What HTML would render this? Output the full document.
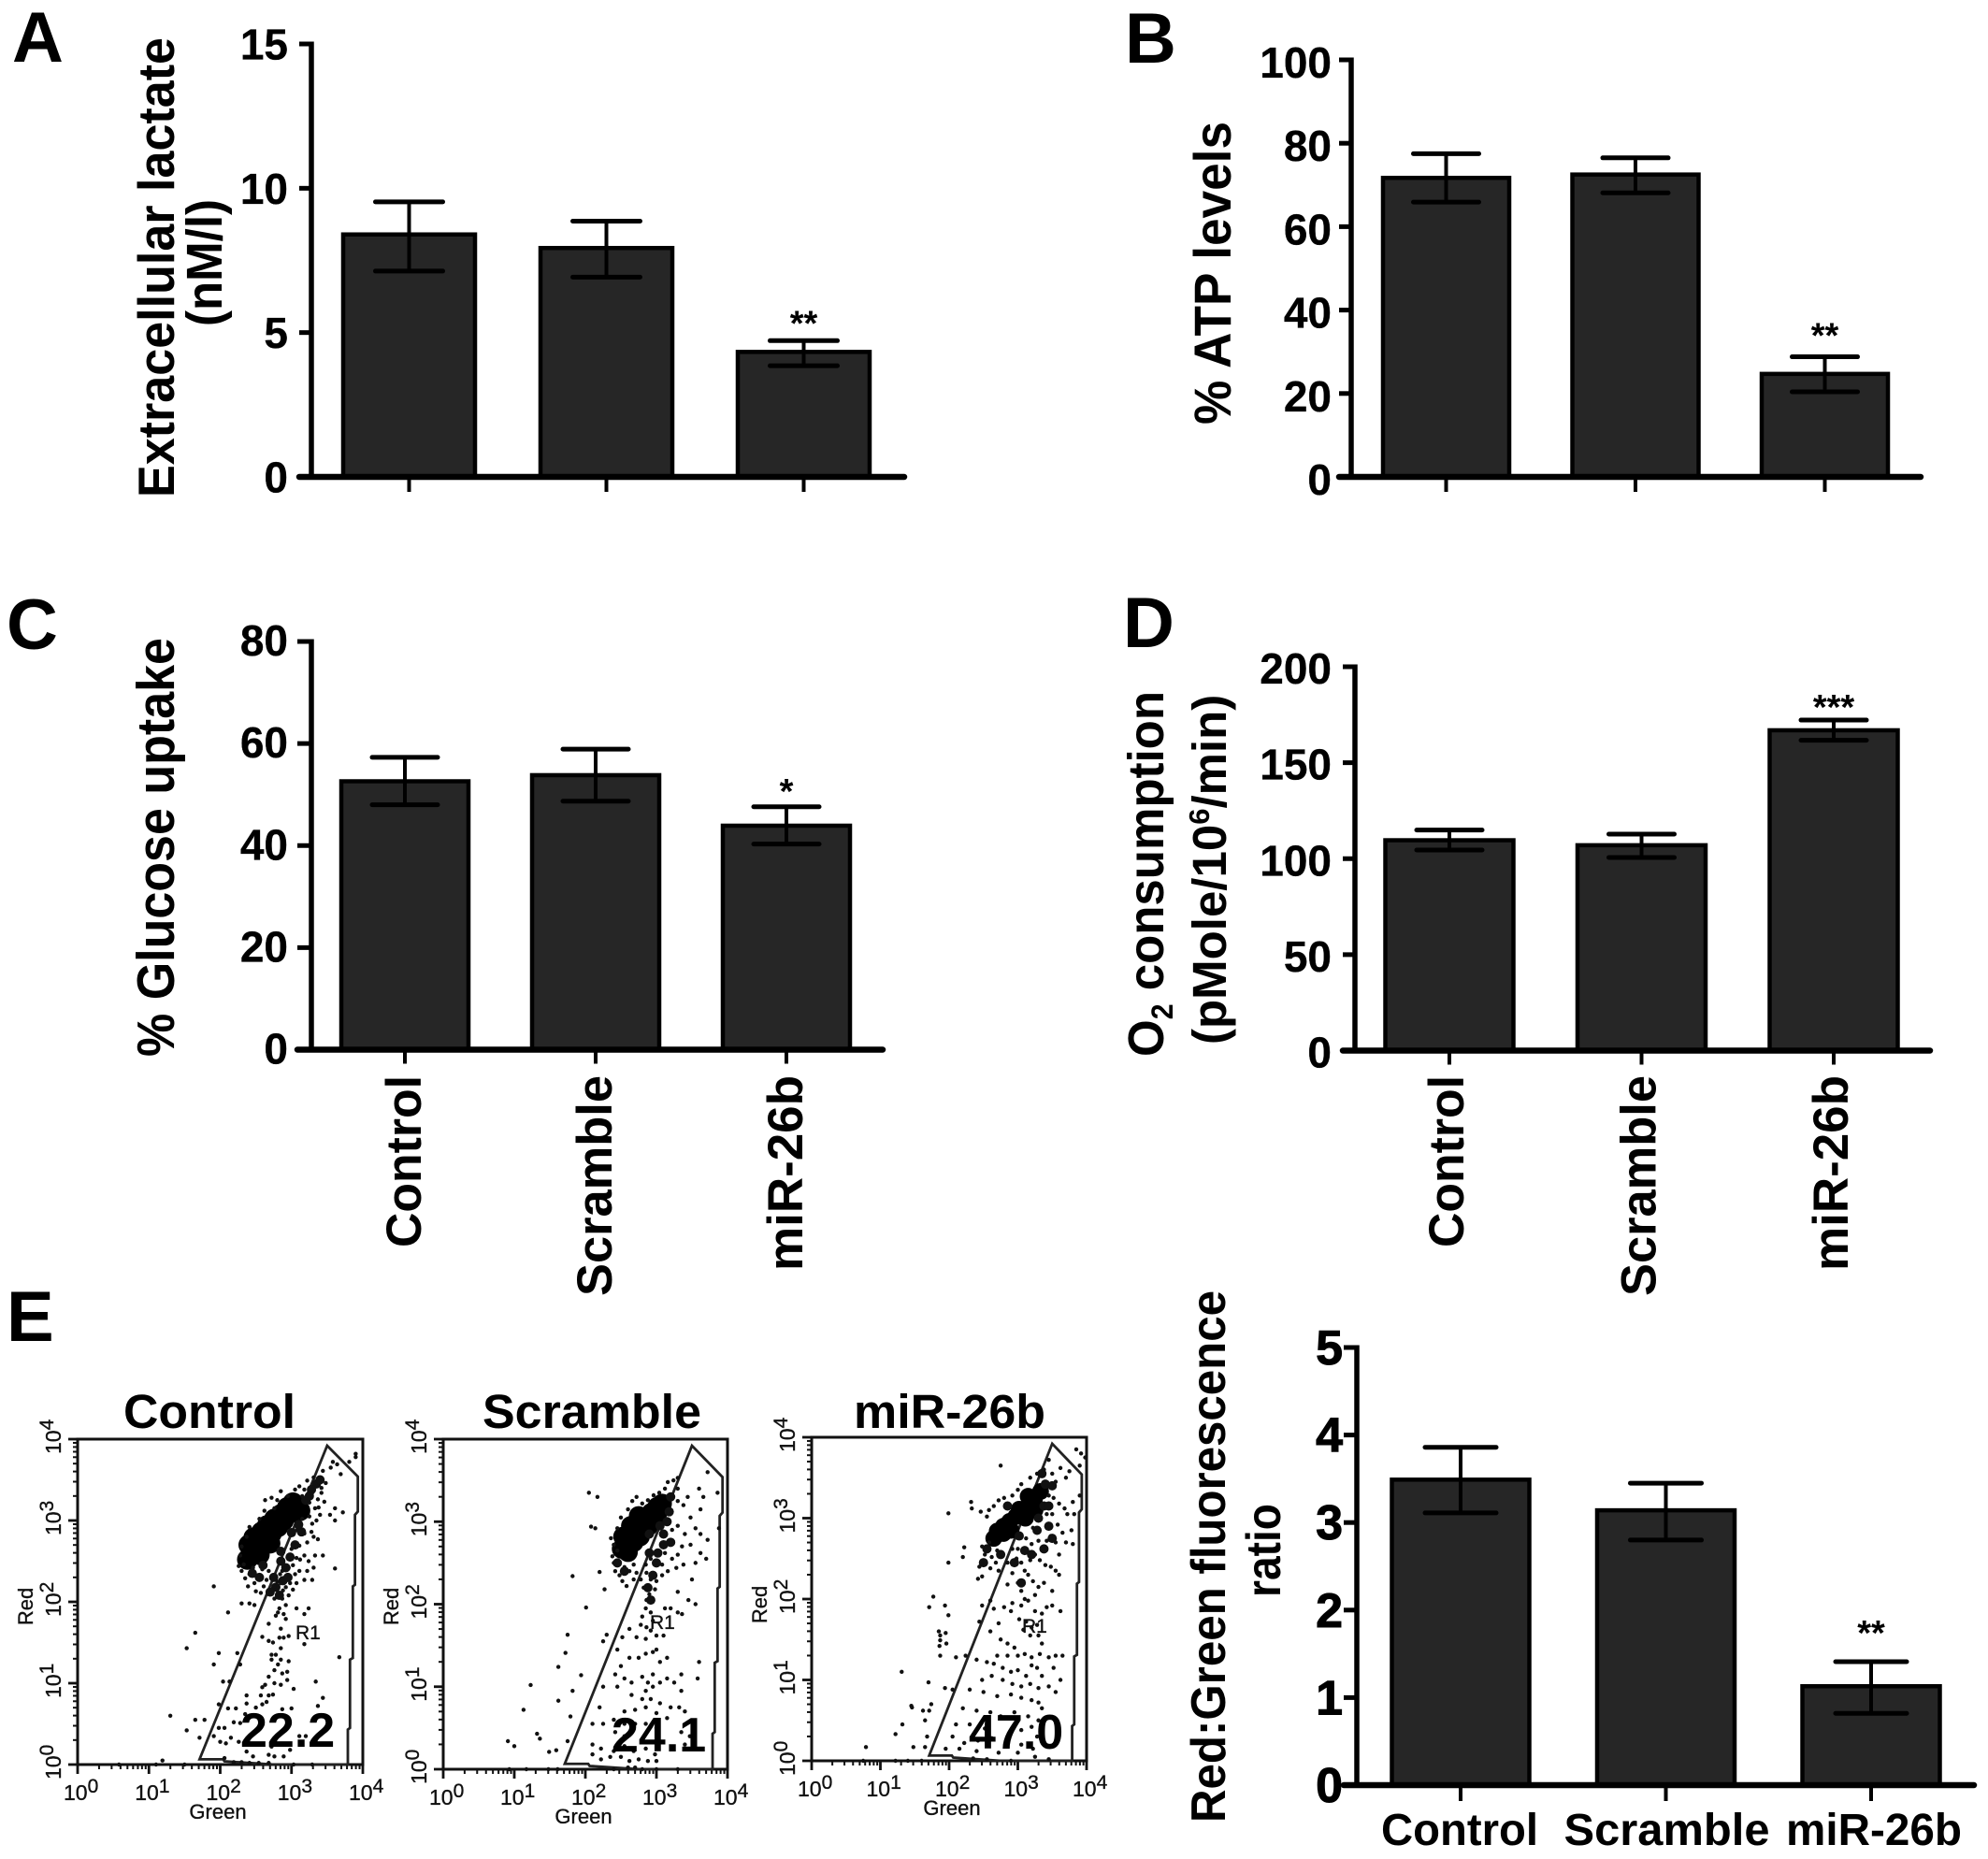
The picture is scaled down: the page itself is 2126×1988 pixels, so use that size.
<!DOCTYPE html>
<html lang="en">
<head>
<meta charset="utf-8">
<title>Metabolic assays, panels A to E</title>
<style>
html,body{margin:0;padding:0;background:#fff;}
svg{display:block;font-family:"Liberation Sans",sans-serif;}
.t{font-weight:bold;fill:#000;}
.f{fill:#111;font-weight:normal;stroke:#111;stroke-width:0.35;}
</style>
</head>
<body>
<svg id="figure" xmlns="http://www.w3.org/2000/svg" width="2126" height="1988" viewBox="0 0 2126 1988">
<rect x="0" y="0" width="2126" height="1988" fill="#fff"/>
<text class="t" x="13" y="66" font-size="76">A</text>
<text class="t" x="1203" y="67" font-size="76">B</text>
<text class="t" x="7" y="694" font-size="76">C</text>
<text class="t" x="1201" y="692" font-size="76">D</text>
<text class="t" x="7" y="1434" font-size="76">E</text>

<text class="t" transform="translate(186,532) rotate(-90)" font-size="55" textLength="492" lengthAdjust="spacingAndGlyphs">Extracellular lactate</text>
<text class="t" transform="translate(237,349) rotate(-90)" font-size="54" textLength="136" lengthAdjust="spacingAndGlyphs">(nM/l)</text>
<text class="t" transform="translate(1316,454) rotate(-90)" font-size="56" textLength="324" lengthAdjust="spacingAndGlyphs">% ATP levels</text>
<text class="t" transform="translate(186,1130) rotate(-90)" font-size="57" textLength="448" lengthAdjust="spacingAndGlyphs">% Glucose uptake</text>
<text class="t" transform="translate(1244,1130) rotate(-90)" font-size="54" textLength="391" lengthAdjust="spacingAndGlyphs">O<tspan font-size="32" dy="10">2</tspan><tspan dy="-10"> consumption</tspan></text>
<text class="t" transform="translate(1311,1117) rotate(-90)" font-size="51">(pMole/10<tspan font-size="31" dy="-18">6</tspan><tspan dy="18">/min)</tspan></text>
<text class="t" transform="translate(1310,1949) rotate(-90)" font-size="52" textLength="569" lengthAdjust="spacingAndGlyphs">Red:Green fluorescence</text>
<text class="t" transform="translate(1369,1708) rotate(-90)" font-size="52" textLength="100" lengthAdjust="spacingAndGlyphs">ratio</text>

<text class="t" x="132" y="1527" font-size="51" textLength="184" lengthAdjust="spacingAndGlyphs">Control</text>
<text class="t" x="516" y="1527" font-size="51" textLength="234" lengthAdjust="spacingAndGlyphs">Scramble</text>
<text class="t" x="913" y="1527" font-size="51" textLength="205" lengthAdjust="spacingAndGlyphs">miR-26b</text>
<g id="charts"></g>
</svg>
<script>
/* ---------- Bar chart data ---------- */
const categories = ['Control', 'Scramble', 'miR-26b'];

const lactateValues = [8.4, 7.93, 4.33];
const lactateUpper = [9.53, 8.86, 4.72];
const lactateLower = [7.13, 6.92, 3.85];
const lactateTicks = [0, 5, 10, 15];
const lactateStars = ['', '', '**'];

const atpValues = [71.7, 72.5, 24.7];
const atpUpper = [77.5, 76.5, 28.8];
const atpLower = [65.9, 68.1, 20.4];
const atpTicks = [0, 20, 40, 60, 80, 100];
const atpStars = ['', '', '**'];

const glucoseValues = [52.6, 53.8, 43.9];
const glucoseUpper = [57.3, 58.9, 47.6];
const glucoseLower = [48, 48.7, 40.3];
const glucoseTicks = [0, 20, 40, 60, 80];
const glucoseStars = ['', '', '*'];

const oxygenValues = [109.6, 107, 166.9];
const oxygenUpper = [114.9, 112.8, 172.2];
const oxygenLower = [104.5, 100.6, 161.7];
const oxygenTicks = [0, 50, 100, 150, 200];
const oxygenStars = ['', '', '***'];

const ratioValues = [3.49, 3.14, 1.13];
const ratioUpper = [3.86, 3.45, 1.41];
const ratioLower = [3.11, 2.80, 0.82];
const ratioTicks = [0, 1, 2, 3, 4, 5];
const ratioStars = ['', '', '**'];

/* ---------- Flow cytometry data: [log10 green, log10 red] ---------- */
const flowDecades = [0, 1, 2, 3, 4];
const flowMinor = [2, 3, 4, 5, 6, 7, 8, 9];
const gateVertices = [[1.71,0.065],[3.5,3.92],[3.93,3.54],[3.93,3.11],[3.89,3.07],[3.89,2.21],[3.86,2.19],[3.86,1.31],[3.82,1.29],[3.82,0.45],[3.79,0.43],[3.79,0],[2.76,0],[2.06,0.04],[2.04,0.065]];
const gateValues = ['22.2', '24.1', '47.0'];

const controlDense = [[2.38,2.52],[2.46,2.61],[2.40,2.70],[2.54,2.69],[2.47,2.79],[2.63,2.77],[2.58,2.86],[2.72,2.84],[2.66,2.94],[2.81,2.92],[2.76,3.02],[2.89,3.00],[2.86,3.08],[2.98,3.09],[2.94,3.16],[3.07,3.17],[3.02,3.22],[3.12,3.12],[2.55,2.58],[2.70,2.72]];
const controlMedium = [[2.92,2.42],[2.88,2.26],[2.83,2.08],[2.98,2.55],[3.05,2.70],[3.14,2.86],[2.95,2.30],[3.35,3.45],[3.28,3.38],[2.85,2.62],[3.0,2.85],[3.1,2.95],[2.75,2.30],[2.7,2.12],[2.78,2.18],[2.85,2.5],[3.2,3.25],[3.25,3.3],[3.4,3.5],[2.45,2.35],[2.55,2.3],[2.6,2.45]];
const controlPoints = [[1.91,2.19],[2.11,1.87],[1.65,1.62],[1.53,1.43],[1.98,1.37],[1.91,1.23],[1.30,0.60],[1.65,0.55],[1.78,0.55],[1.53,0.42],[1.71,0.33],[1.19,0.05],[0.58,0],[1.10,0],[1.5,0],
[2.24,1.37],[2.28,1.23],[2.04,1.02],[2.13,1.02],[2.37,0.85],[2.57,0.85],[2.68,0.85],[2.74,0.86],[2.37,0.75],[2.59,0.74],[2.65,0.77],[1.98,0.74],[2.11,0.69],[2.22,0.69],[2.35,0.62],[2.50,0.70],[2.87,0.68],[3.0,0.69],[3.37,0.72],[3.44,0.82],[3.34,1.02],[3.67,1.32],[3.03,0.93],[2.94,1.04],[2.85,0.98],[2.76,1.0],[2.63,0.98],[2.59,0.95],[2.68,1.08],[2.87,1.12],[2.94,1.14],[2.76,1.16],[2.81,1.23],[2.72,1.29],[2.96,1.27],[2.85,1.29],[2.72,1.35],[2.78,1.35],[2.85,1.43],[2.68,1.52],[2.74,1.50],[2.59,1.57],[2.83,1.56],[2.89,1.56],[2.96,1.58],[3.18,1.48],[2.85,1.67],[2.92,1.79],[2.68,1.73],[2.78,1.83],[2.89,1.85],[2.81,1.87],[3.18,1.85],[3.24,1.92],[3.07,1.92],
[1.98,0.45],[2.06,0.45],[2.19,0.52],[2.28,0.51],[1.91,0.35],[2.0,0.28],[2.08,0.26],[2.15,0.33],[2.26,0.28],[2.37,0.16],[2.46,0.10],[2.68,0.12],[2.76,0.10],[2.89,0.10],[2.98,0.18],[3.11,0.35],[3.2,0.35],[2.72,0.22],[2.06,0.08],[2.19,0.03],[2.3,0.03],[2.41,0.02],[2.54,0.02],[2.68,0.02],[3.03,0],[3.29,0],
[2.30,2.38],[2.35,2.29],[2.41,2.34],[2.48,2.23],[2.54,2.31],[2.61,2.19],[2.65,2.27],[2.39,2.19],[2.50,2.13],[2.57,2.11],[2.33,2.46],[2.28,2.57],[2.26,2.44],[2.46,2.42],[2.59,2.40],[2.68,2.38],[2.41,1.98],[2.30,1.98],[2.48,1.96],
[2.76,2.19],[2.81,2.11],[2.85,2.23],[2.92,2.31],[2.87,2.38],[2.96,2.42],[2.98,2.23],[3.05,2.34],[3.11,2.38],[3.02,2.15],[2.96,2.08],[2.87,2.04],[2.76,2.04],[2.72,2.15],[2.92,1.96],[2.83,1.92],[3.07,2.23],[3.18,2.27],[3.22,2.38],[3.31,2.42],[3.29,2.27],[3.24,2.50],[3.33,2.57],[3.44,2.57],[3.18,2.57],[3.07,2.54],[2.96,2.54],[3.0,2.65],[3.11,2.69],[3.22,2.73],[3.31,2.80],[3.37,2.77],[3.18,2.84],[3.07,2.88],[3.29,2.96],[3.35,3.0],[3.46,3.23],[3.42,3.34],[3.35,3.42],[3.48,3.46],[3.44,3.61],[3.55,3.65],[3.64,3.69],[3.58,3.72],[3.69,3.57],[3.81,3.72],[3.90,3.82],[3.90,3.78],[3.61,3.15],[3.72,3.10],[3.54,3.07],[3.61,3.0],[3.61,2.41],[3.11,3.42],[3.22,3.49],[3.31,3.53],[3.18,3.38],[3.29,3.34],[3.37,3.26],[3.33,3.15],[3.40,3.07],[2.85,3.36],[2.72,3.28],[2.63,3.25],[2.76,3.15],[2.41,2.92],[2.37,2.80],[2.30,2.68],[2.55,3.02],[2.62,3.12],[2.80,3.25],[2.95,3.30],[3.05,3.38],[3.15,3.30],[3.25,3.22],[3.38,3.16],[3.42,3.40],[3.25,3.05],[3.15,3.02],[3.28,2.86],[3.12,2.52],[3.02,2.45],[2.92,2.18],[2.88,2.14],[2.80,2.25],[2.84,2.34]];

const scrambleDense = [[2.51,2.67],[2.57,2.77],[2.66,2.86],[2.75,2.95],[2.84,3.03],[2.93,3.11],[3.01,3.18],[3.08,3.22],[2.60,2.63],[2.68,2.75],[2.77,2.82],[2.88,2.94],[2.53,2.82],[2.64,2.95],[2.75,3.07],[3.01,3.09]];
const scrambleMedium = [[3.10,2.85],[3.20,2.75],[3.02,2.62],[2.95,2.35],[3.18,3.12],[2.90,2.85],[3.05,2.95],[3.15,3.0],[3.2,3.3],[2.9,2.62],[3.0,2.5],[2.88,2.2],[2.92,2.05],[2.45,2.5],[2.55,2.4],[3.1,2.72]];
const scramblePoints = [[2.05,3.35],[2.17,3.30],[2.08,2.94],[2.14,2.92],[1.82,2.34],[2.20,2.39],[2.27,2.18],[2.01,1.96],[1.75,1.63],[1.72,1.41],[1.62,1.24],[1.94,1.14],[1.23,1.02],[1.82,0.95],[1.62,0.83],[1.13,0.72],[1.79,0.64],[1.32,0.43],[1.36,0.37],[0.91,0.34],[1.0,0.28],[1.49,0.21],[1.59,0.23],[1.75,0.34],[0.93,0],[1.17,0],[1.48,0],[1.61,0],
[2.45,2.65],[2.38,2.58],[2.40,2.50],[2.42,2.40],[2.48,2.35],[2.52,2.28],[2.58,2.22],[2.62,2.40],[2.55,2.45],[2.68,2.48],[2.72,2.38],[2.68,2.30],[2.78,2.30],[2.40,2.72],[2.36,2.80],[2.45,2.92],[2.50,3.05],[2.60,3.15],[2.66,3.25],[2.72,3.30],[2.80,3.22],[2.88,3.26],[2.96,3.32],[3.04,3.35],[3.12,3.40],[3.16,3.48],[3.24,3.50],[3.30,3.53],[3.30,3.40],[3.22,3.32],[3.30,3.25],[3.38,3.20],[3.44,3.30],[3.60,3.40],[3.72,3.60],[3.66,3.30],[3.86,3.35],[3.62,3.15],[3.48,3.05],[3.55,2.92],[3.62,2.85],[3.72,2.78],[3.88,2.92],[3.62,2.62],[3.70,2.55],[3.55,2.50],[3.48,2.72],[3.40,2.85],[3.30,2.95],[3.22,2.90],[3.36,2.70],[3.30,2.60],[3.22,2.55],[3.12,2.62],[3.08,2.48],[3.00,2.50],[2.92,2.55],[2.85,2.48],[2.86,2.38],[2.92,2.30],[3.00,2.28],[3.08,2.35],[3.16,2.40],[3.28,2.44],[3.38,2.48],[2.98,2.18],[2.90,2.12],[2.82,2.20],[2.86,2.05],[3.30,2.15],[3.45,2.05],[3.55,2.00],[3.50,2.30],
[2.85,1.95],[2.92,1.90],[2.80,1.85],[2.95,1.80],[2.86,1.72],[2.78,1.75],[2.92,1.68],[2.72,1.60],[2.85,1.58],[3.0,1.62],[3.10,1.62],[3.30,1.90],[3.20,1.95],[3.36,1.88],[3.12,1.95],[2.62,1.70],[2.52,1.60],[2.30,1.63],[2.25,1.55],[2.45,1.45],[2.62,1.35],[2.75,1.35],[2.85,1.40],[2.95,1.42],[3.00,1.45],[3.15,1.35],[3.05,1.30],[3.60,1.30],[3.58,1.10],[3.35,1.15],[2.50,1.25],[2.42,1.15],[2.55,1.10],[2.65,1.05],[2.80,1.12],[2.88,1.05],[2.95,1.00],[2.85,0.95],[2.95,1.15],[3.15,1.10],[3.25,1.05],[3.35,0.95],[3.05,1.05],[2.25,1.00],[2.45,1.00],[2.65,0.90],[2.80,0.85],[2.92,0.85],[3.05,0.80],[3.20,0.75],[3.32,0.75],[3.40,0.70],[2.55,0.70],[2.70,0.72],[2.85,0.75],[3.0,0.68],[3.15,0.62],[2.20,0.75],[2.10,0.55],[2.25,0.55],[2.40,0.60],[2.55,0.55],[2.70,0.55],[2.85,0.55],[3.0,0.50],[3.35,0.45],[2.42,0.45],[2.55,0.40],[3.47,0.40],[3.40,0.30],[2.10,0.30],[2.22,0.25],[2.40,0.22],[2.55,0.28],[2.68,0.22],[2.85,0.25],[2.98,0.18],[2.10,0.18],[2.22,0.12],[2.35,0.15],[2.50,0.15],[2.62,0.10],[2.75,0.12],[2.88,0.10],[3.0,0.10],[2.60,0.02],[2.70,0.02],[2.80,0],[2.40,0],[3.0,0],[3.3,0]];

const mirDense = [[2.70,2.84],[2.79,2.90],[2.88,2.96],[2.97,3.02],[3.06,3.08],[3.15,3.15],[3.24,3.23],[3.33,3.33],[2.65,2.75],[2.79,2.81],[3.02,3.11],[3.15,3.27],[3.11,3.0],[2.90,2.85],[3.25,3.10]];
const mirMedium = [[3.40,3.42],[2.55,2.62],[3.38,3.15],[3.28,2.85],[3.10,2.60],[3.45,2.90],[3.02,2.78],[3.38,2.62],[2.5,2.45],[2.75,2.55],[2.95,2.45],[3.3,3.0],[3.45,3.15],[3.5,3.4],[3.35,3.55],[3.2,2.55],[3.05,2.2],[2.85,3.15],[3.5,2.75]];
const mirPoints = [[2.75,3.65],[1.99,3.06],[2.32,3.20],[2.33,3.12],[2.46,3.08],[2.58,3.10],[2.22,2.64],[2.20,2.52],[1.99,2.45],[2.44,2.40],[2.48,2.28],[2.42,2.25],[2.44,1.72],[2.48,1.92],[2.60,1.98],[1.77,2.03],[1.71,1.90],[1.94,1.92],[1.99,1.80],[1.85,1.60],[1.87,1.55],[1.95,1.58],[1.86,1.42],[1.87,1.49],[1.96,1.45],[1.87,1.30],[2.10,1.28],[2.24,1.30],[1.31,1.10],[1.70,0.97],[1.94,0.90],[2.05,0.88],[1.45,0.68],[1.46,0.66],[1.74,0.70],[1.71,0.62],[1.62,0.62],[1.65,0.50],[1.32,0.45],[1.22,0.33],[1.68,0.30],[1.48,0.17],[0.79,0.17],[1.65,0.17],[0.75,0],[1.22,0],[1.40,0],[1.60,0],
[2.52,2.55],[2.48,2.65],[2.58,2.70],[2.62,2.52],[2.70,2.60],[2.78,2.55],[2.68,2.45],[2.60,2.38],[2.72,2.35],[2.85,2.45],[2.92,2.62],[2.98,2.50],[3.05,2.45],[3.10,2.35],[3.18,2.48],[3.25,2.55],[3.32,2.48],[3.40,2.42],[3.48,2.40],[3.55,2.35],[2.55,3.02],[2.65,3.15],[2.72,3.22],[2.80,3.25],[2.92,3.28],[3.00,3.35],[3.05,3.42],[3.18,3.50],[3.28,3.55],[3.38,3.60],[3.45,3.72],[3.50,3.55],[3.55,3.45],[3.62,3.62],[3.70,3.50],[3.75,3.58],[3.85,3.85],[3.92,3.80],[3.98,3.75],[3.90,3.65],[3.45,3.28],[3.52,3.25],[3.60,3.18],[3.68,3.12],[3.72,3.05],[3.80,3.20],[3.82,3.05],[3.90,3.28],[3.50,3.05],[3.58,2.92],[3.65,2.82],[3.70,2.70],[3.80,2.68],[3.78,2.85],[3.48,2.78],[3.55,2.70],[3.60,2.55],[3.42,2.72],[3.30,2.72],[3.20,2.68],[3.12,2.75],[3.22,2.88],[3.32,2.98],[3.42,3.05],[3.00,2.62],[2.92,2.32],[3.00,2.20],[3.05,2.10],[3.15,2.30],[3.22,2.22],[3.30,2.15],[3.10,2.00],[3.25,2.05],[3.38,2.20],[3.50,2.10],[3.60,2.30],
[2.85,2.18],[2.92,1.95],[3.05,1.92],[3.15,1.98],[3.25,1.85],[3.35,1.82],[3.42,1.90],[3.50,1.92],[3.62,1.85],[2.65,1.88],[2.80,1.90],[2.90,1.85],[3.02,1.75],[3.12,1.72],[3.20,1.65],[3.28,1.68],[3.08,1.62],[3.18,1.55],[3.30,1.55],[3.35,1.45],[2.72,1.70],[2.60,1.60],[2.75,1.50],[2.85,1.45],[2.95,1.40],[2.70,1.30],[2.85,1.30],[3.00,1.30],[3.10,1.32],[3.20,1.28],[3.32,1.32],[3.45,1.28],[3.55,1.30],[3.65,1.30],[2.40,1.25],[2.55,1.22],[2.65,1.20],[2.78,1.15],[2.90,1.10],[3.00,1.12],[3.12,1.05],[3.20,1.18],[3.28,1.15],[3.35,1.05],[3.52,1.15],[3.62,1.00],[2.48,1.00],[2.62,1.05],[2.78,1.00],[2.92,0.95],[3.05,0.92],[3.18,0.95],[3.30,0.90],[3.45,0.92],[3.55,0.85],[2.30,0.88],[2.50,0.85],[2.70,0.80],[2.90,0.82],[3.05,0.78],[3.20,0.75],[3.30,0.72],[3.35,0.65],[2.20,0.65],[2.40,0.62],[2.60,0.60],[2.75,0.55],[2.95,0.60],[3.15,0.55],[3.30,0.50],[3.20,0.42],[2.10,0.45],[2.30,0.45],[2.52,0.40],[3.05,0.38],[3.28,0.30],[2.05,0.30],[2.22,0.22],[2.42,0.25],[2.62,0.28],[2.85,0.28],[3.05,0.20],[3.22,0.15],[1.95,0.15],[2.15,0.15],[2.40,0.12],[2.72,0.10],[3.0,0.10],[3.25,0.05],[2.35,0.03],[2.55,0.02],[2.90,0],[3.45,0.02]];

/* ---------- Drawing ---------- */
const NS = 'http://www.w3.org/2000/svg';
const root = document.getElementById('charts');

function mk(tag, attrs, parent, text) {
  const el = document.createElementNS(NS, tag);
  for (const k in attrs) el.setAttribute(k, attrs[k]);
  if (text !== undefined) el.textContent = text;
  (parent || root).appendChild(el);
  return el;
}

function drawBars(name, values, upper, lower, ticks, stars, p) {
  const g = mk('g', {});
  
  
  const yMax = ticks[ticks.length - 1];
  const y = v => p.yZero - (v / yMax) * (p.yZero - p.yTop);
  const x = i => p.c0 + i * p.step;

  values.forEach((v, i) => {
    const bar = mk('rect', {x: x(i) - p.bw / 2, y: y(v), width: p.bw, height: p.yZero - y(v), fill: '#262626', stroke: '#000', 'stroke-width': 4.5}, g);
    
    
    const stem = mk('line', {x1: x(i), x2: x(i), y1: y(upper[i]), y2: y(lower[i]), stroke: '#000', 'stroke-width': 4}, g);
    
    
    const capTop = mk('line', {x1: x(i) - p.cap / 2, x2: x(i) + p.cap / 2, y1: y(upper[i]), y2: y(upper[i]), stroke: '#000', 'stroke-width': 5, 'stroke-linecap': 'round'}, g);
    
    
    const capBottom = mk('line', {x1: x(i) - p.cap / 2, x2: x(i) + p.cap / 2, y1: y(lower[i]), y2: y(lower[i]), stroke: '#000', 'stroke-width': 5, 'stroke-linecap': 'round'}, g);
    
    
    const xTick = mk('line', {x1: x(i), x2: x(i), y1: p.yZero, y2: p.yZero + p.tickLen, stroke: '#000', 'stroke-width': 4}, g);
    
    
    if (stars[i]) {
      const star = mk('text', {x: x(i), y: y(upper[i]) - p.starGap, 'font-size': 38, 'text-anchor': 'middle', class: 't'}, g, stars[i]);
      
      
    }
    if (p.rotLabels) {
      const lab = mk('text', {transform: 'translate(' + (x(i) + p.rotOff) + ',1150) rotate(-90)', 'font-size': 53, 'text-anchor': 'end', class: 't', textLength: p.rotWidth[i], lengthAdjust: 'spacingAndGlyphs'}, g, categories[i]);
      
      
    }
    if (p.flatLabels) {
      const lab = mk('text', {x: x(i) + p.flatShift[i], y: 1973, 'font-size': 48, 'text-anchor': 'middle', class: 't', textLength: p.flatWidth[i], lengthAdjust: 'spacingAndGlyphs'}, g, categories[i]);
      
      
    }
  });

  const yAxis = mk('line', {x1: p.xAxis, x2: p.xAxis, y1: p.yTop - 2.5, y2: p.yZero, stroke: '#000', 'stroke-width': 5.5}, g);
  
  
  const xAxis = mk('line', {x1: p.xStart, x2: p.xEnd, y1: p.yZero, y2: p.yZero, stroke: '#000', 'stroke-width': 6.5, 'stroke-linecap': 'round'}, g);
  
  

  ticks.forEach(t => {
    const tick = mk('line', {x1: p.xStart, x2: p.xAxis, y1: y(t), y2: y(t), stroke: '#000', 'stroke-width': 5}, g);
    
    
    const lab = mk('text', {x: p.labelRight, y: y(t) + p.labelDrop, 'font-size': p.labelSize, 'text-anchor': 'end', class: 't', stroke: '#000', 'stroke-width': p.labelStroke}, g, String(t));
    
    
  });
}

drawBars('lactate', lactateValues, lactateUpper, lactateLower, lactateTicks, lactateStars,
  {xAxis: 333, xStart: 320, xEnd: 967, yTop: 47, yZero: 510, c0: 437.5, step: 211, bw: 141, cap: 72, tickLen: 16, starGap: 6, labelRight: 308, labelDrop: 16.5, labelSize: 46, labelStroke: 0.3});
drawBars('atp', atpValues, atpUpper, atpLower, atpTicks, atpStars,
  {xAxis: 1445, xStart: 1432, xEnd: 2054, yTop: 64, yZero: 510, c0: 1546.5, step: 202.5, bw: 135, cap: 70, tickLen: 16, starGap: 10, labelRight: 1424, labelDrop: 19, labelSize: 46, labelStroke: 0.3});
drawBars('glucose', glucoseValues, glucoseUpper, glucoseLower, glucoseTicks, glucoseStars,
  {xAxis: 333, xStart: 318, xEnd: 944, yTop: 686, yZero: 1122.5, c0: 433, step: 204, bw: 136, cap: 70, tickLen: 15, starGap: 4, labelRight: 308, labelDrop: 15, labelSize: 46, labelStroke: 0.3, rotLabels: true, rotOff: 17, rotWidth: [184, 236, 209]});
drawBars('oxygen', oxygenValues, oxygenUpper, oxygenLower, oxygenTicks, oxygenStars,
  {xAxis: 1449, xStart: 1436, xEnd: 2064, yTop: 713, yZero: 1123.5, c0: 1550, step: 205.5, bw: 137, cap: 70, tickLen: 15, starGap: 1, labelRight: 1424, labelDrop: 18, labelSize: 46, labelStroke: 0.3, rotLabels: true, rotOff: 15, rotWidth: [184, 236, 209]});
drawBars('ratio', ratioValues, ratioUpper, ratioLower, ratioTicks, ratioStars,
  {xAxis: 1451, xStart: 1437, xEnd: 2111, yTop: 1441, yZero: 1909, c0: 1562, step: 219.5, bw: 147, cap: 76, tickLen: 17, starGap: 18, labelRight: 1436, labelDrop: 18, labelSize: 52, labelStroke: 1, flatLabels: true, flatShift: [-1, 1, 3], flatWidth: [168, 220, 188]});

function drawFlow(name, dense, medium, points, value, f) {
  const g = mk('g', {});
  
  
  const px = v => f.x0 + (v / 4) * (f.x1 - f.x0);
  const py = v => f.y1 - (v / 4) * (f.y1 - f.y0);

  const frame = mk('rect', {x: f.x0, y: f.y0, width: f.x1 - f.x0, height: f.y1 - f.y0, fill: 'none', stroke: '#111', 'stroke-width': 3}, g);
  
  

  flowDecades.forEach(d => {
    const majorX = mk('line', {x1: px(d), x2: px(d), y1: f.y1, y2: f.y1 + 10, stroke: '#111', 'stroke-width': 2.8}, g);
    
    
    const majorY = mk('line', {x1: f.x0 - 10, x2: f.x0, y1: py(d), y2: py(d), stroke: '#111', 'stroke-width': 2.8}, g);
    
    
    const labX = mk('text', {x: px(d) - 15, y: f.y1 + 38, 'font-size': 23, class: 'f'}, g);
    
    
    mk('tspan', {}, labX, '10');
    mk('tspan', {dy: -8, 'font-size': 21}, labX, String(d));
    const labY = mk('text', {transform: 'translate(' + (f.x0 - 18) + ',' + (py(d) + 16) + ') rotate(-90)', 'font-size': 23, class: 'f'}, g);
    
    
    mk('tspan', {}, labY, '10');
    mk('tspan', {dy: -8, 'font-size': 21}, labY, String(d));
    if (d < 4) flowMinor.forEach(m => {
      const lv = d + Math.log10(m);
      const minorX = mk('line', {x1: px(lv), x2: px(lv), y1: f.y1, y2: f.y1 + 5, stroke: '#111', 'stroke-width': 2}, g);
      
      
      const minorY = mk('line', {x1: f.x0 - 5, x2: f.x0, y1: py(lv), y2: py(lv), stroke: '#111', 'stroke-width': 2}, g);
      
      
    });
  });

  const gate = mk('polygon', {points: gateVertices.map(v => px(v[0]) + ',' + py(v[1])).join(' '), fill: 'none', stroke: '#222', 'stroke-width': 2.8}, g);
  
  

  dense.forEach(pt => {
    const blob = mk('circle', {cx: px(pt[0]), cy: py(pt[1]), r: f.denseR, fill: '#000'}, g);
    
    
  });
  medium.forEach(pt => {
    const mid = mk('circle', {cx: px(pt[0]), cy: py(pt[1]), r: 5, fill: '#111'}, g);
    
    
  });
  points.forEach(pt => {
    const dot = mk('circle', {cx: px(pt[0]), cy: py(pt[1]), r: 2.2, fill: '#111'}, g);
    
    
  });

  const r1 = mk('text', {x: f.r1x, y: f.r1y, 'font-size': 21, class: 'f'}, g, 'R1');
  
  
  const green = mk('text', {x: f.x0 + 150, y: f.y1 + 58, 'font-size': 22, 'text-anchor': 'middle', class: 'f'}, g, 'Green');
  
  
  const red = mk('text', {transform: 'translate(' + (f.x0 - 48) + ',' + (f.y0 + 179) + ') rotate(-90)', 'font-size': 22, 'text-anchor': 'middle', class: 'f'}, g, 'Red');
  
  
  const pct = mk('text', {x: f.vx, y: f.vy, 'font-size': 52, class: 't'}, g, value);
  
  
}

drawFlow('control', controlDense, controlMedium, controlPoints, gateValues[0],
  {x0: 83, x1: 388, y0: 1539, y1: 1887, denseR: 11, r1x: 316, r1y: 1753, vx: 257, vy: 1868});
drawFlow('scramble', scrambleDense, scrambleMedium, scramblePoints, gateValues[1],
  {x0: 474, x1: 778, y0: 1539, y1: 1892, denseR: 10.5, r1x: 695, r1y: 1742, vx: 654, vy: 1873});
drawFlow('mir26b', mirDense, mirMedium, mirPoints, gateValues[2],
  {x0: 868, x1: 1162, y0: 1537, y1: 1883, denseR: 9, r1x: 1093, r1y: 1746, vx: 1036, vy: 1870});
</script>
</body>
</html>
